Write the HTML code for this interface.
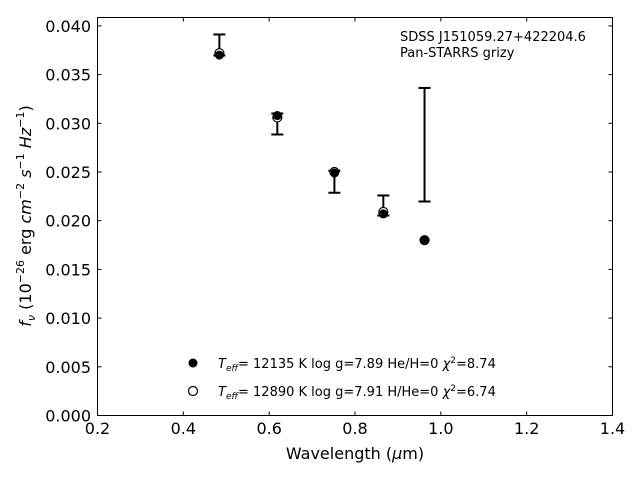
<!DOCTYPE html>
<html><head><meta charset="utf-8"><style>
body{margin:0;background:#fff;width:640px;height:480px;overflow:hidden}
svg{font-family:"DejaVu Sans","Liberation Sans",sans-serif}
</style></head><body>
<svg id="chart" width="640" height="480" viewBox="0 0 640 480">
<rect x="0" y="0" width="640" height="480" fill="#fff"/>
<g id="ticks"></g>
<g id="marks"></g>
<rect x="97.5" y="17.5" width="515" height="398" fill="none" stroke="#000" stroke-width="1"/>
<text x="400" y="41" font-size="13">SDSS J151059.27+422204.6</text>
<text x="400" y="57" font-size="13">Pan-STARRS grizy</text>
<text x="355" y="459" font-size="16" text-anchor="middle">Wavelength (<tspan font-style="italic">μ</tspan>m)</text>
<text transform="translate(31,216) rotate(-90)" font-size="16" text-anchor="middle"><tspan font-style="italic">f<tspan font-size="11" dy="4">ν</tspan></tspan><tspan dy="-4"> (10</tspan><tspan font-size="11" dy="-7">−26</tspan><tspan dy="7"> erg </tspan><tspan font-style="italic">cm</tspan><tspan font-size="11" dy="-7">−2</tspan><tspan dy="7" font-style="italic"> s</tspan><tspan font-size="11" dy="-7">−1</tspan><tspan dy="7" font-style="italic"> Hz</tspan><tspan font-size="11" dy="-7">−1</tspan><tspan dy="7">)</tspan></text>
<g>
<circle cx="193" cy="363" r="4.5" fill="#000"/>
<text x="218" y="368" font-size="13"><tspan font-style="italic">T<tspan font-size="9" dy="3">eff</tspan></tspan><tspan dy="-3">= 12135 K  log g=7.89  He/H=0  </tspan><tspan font-style="italic">χ</tspan><tspan font-size="9" dy="-5">2</tspan><tspan dy="5">=8.74</tspan></text>
<circle cx="193" cy="391" r="4.5" fill="#fff" stroke="#000" stroke-width="1.2"/>
<text x="218" y="396" font-size="13"><tspan font-style="italic">T<tspan font-size="9" dy="3">eff</tspan></tspan><tspan dy="-3">= 12890 K  log g=7.91  H/He=0  </tspan><tspan font-style="italic">χ</tspan><tspan font-size="9" dy="-5">2</tspan><tspan dy="5">=6.74</tspan></text>
</g>
</svg>
<script>
const wavelengths=[0.484,0.619,0.752,0.866,0.962];
const obsFlux=[0.03804,0.02993,0.0240,0.02156,0.0278];
const obsErr=[0.00108,0.00108,0.00113,0.00103,0.00583];
const modelA=[0.0370,0.0308,0.0249,0.0207,0.0180];
const modelB=[0.0372,0.0306,0.0250,0.0209,0.0180];
const xTicks=[0.2,0.4,0.6,0.8,1.0,1.2,1.4];
const yTicks=[0,0.005,0.010,0.015,0.020,0.025,0.030,0.035,0.040];
const NS='http://www.w3.org/2000/svg';
const X=v=>97.5+(v-0.2)/1.2*515;
const Y=v=>415.5-v*9740;
function mk(tag,attrs,parent){const e=document.createElementNS(NS,tag);for(const k in attrs)e.setAttribute(k,attrs[k]);parent.appendChild(e);return e;}
const tg=document.getElementById('ticks'),mg=document.getElementById('marks');
xTicks.forEach(t=>{const x=X(t);
 let l=mk('line',{x1:x,x2:x,y1:415.5,y2:411.5,stroke:'#000'},tg);
 
 
 let l2=mk('line',{x1:x,x2:x,y1:17.5,y2:21.5,stroke:'#000'},tg);
 
 
 let tx=mk('text',{x:x,y:434,'font-size':16,'text-anchor':'middle'},tg);tx.textContent=t.toFixed(1);
 
 
});
yTicks.forEach(t=>{const y=Y(t);
 let l=mk('line',{x1:97.5,x2:101.5,y1:y,y2:y,stroke:'#000'},tg);
 
 
 let l2=mk('line',{x1:612.5,x2:608.5,y1:y,y2:y,stroke:'#000'},tg);
 
 
 let tx=mk('text',{x:91,y:y+6,'font-size':16,'text-anchor':'end'},tg);tx.textContent=t.toFixed(3);
 
 
});
wavelengths.forEach((w,i)=>{const x=X(w),y1=Y(obsFlux[i]+obsErr[i]),y2=Y(obsFlux[i]-obsErr[i]);
 const g=mk('g',{stroke:'#000','stroke-width':2},mg);
 
 
 mk('line',{x1:x,x2:x,y1:y1,y2:y2},g);
 mk('line',{x1:x-6,x2:x+6,y1:y1,y2:y1},g);
 mk('line',{x1:x-6,x2:x+6,y1:y2,y2:y2},g);
});
wavelengths.forEach((w,i)=>{
 let c=mk('circle',{cx:X(w),cy:Y(modelB[i]),r:4.5,fill:'#fff',stroke:'#000','stroke-width':1.2},mg);
 
 
 let d=mk('circle',{cx:X(w),cy:Y(modelA[i]),r:4.5,fill:'#000'},mg);
 
 
});
</script>
</body></html>
